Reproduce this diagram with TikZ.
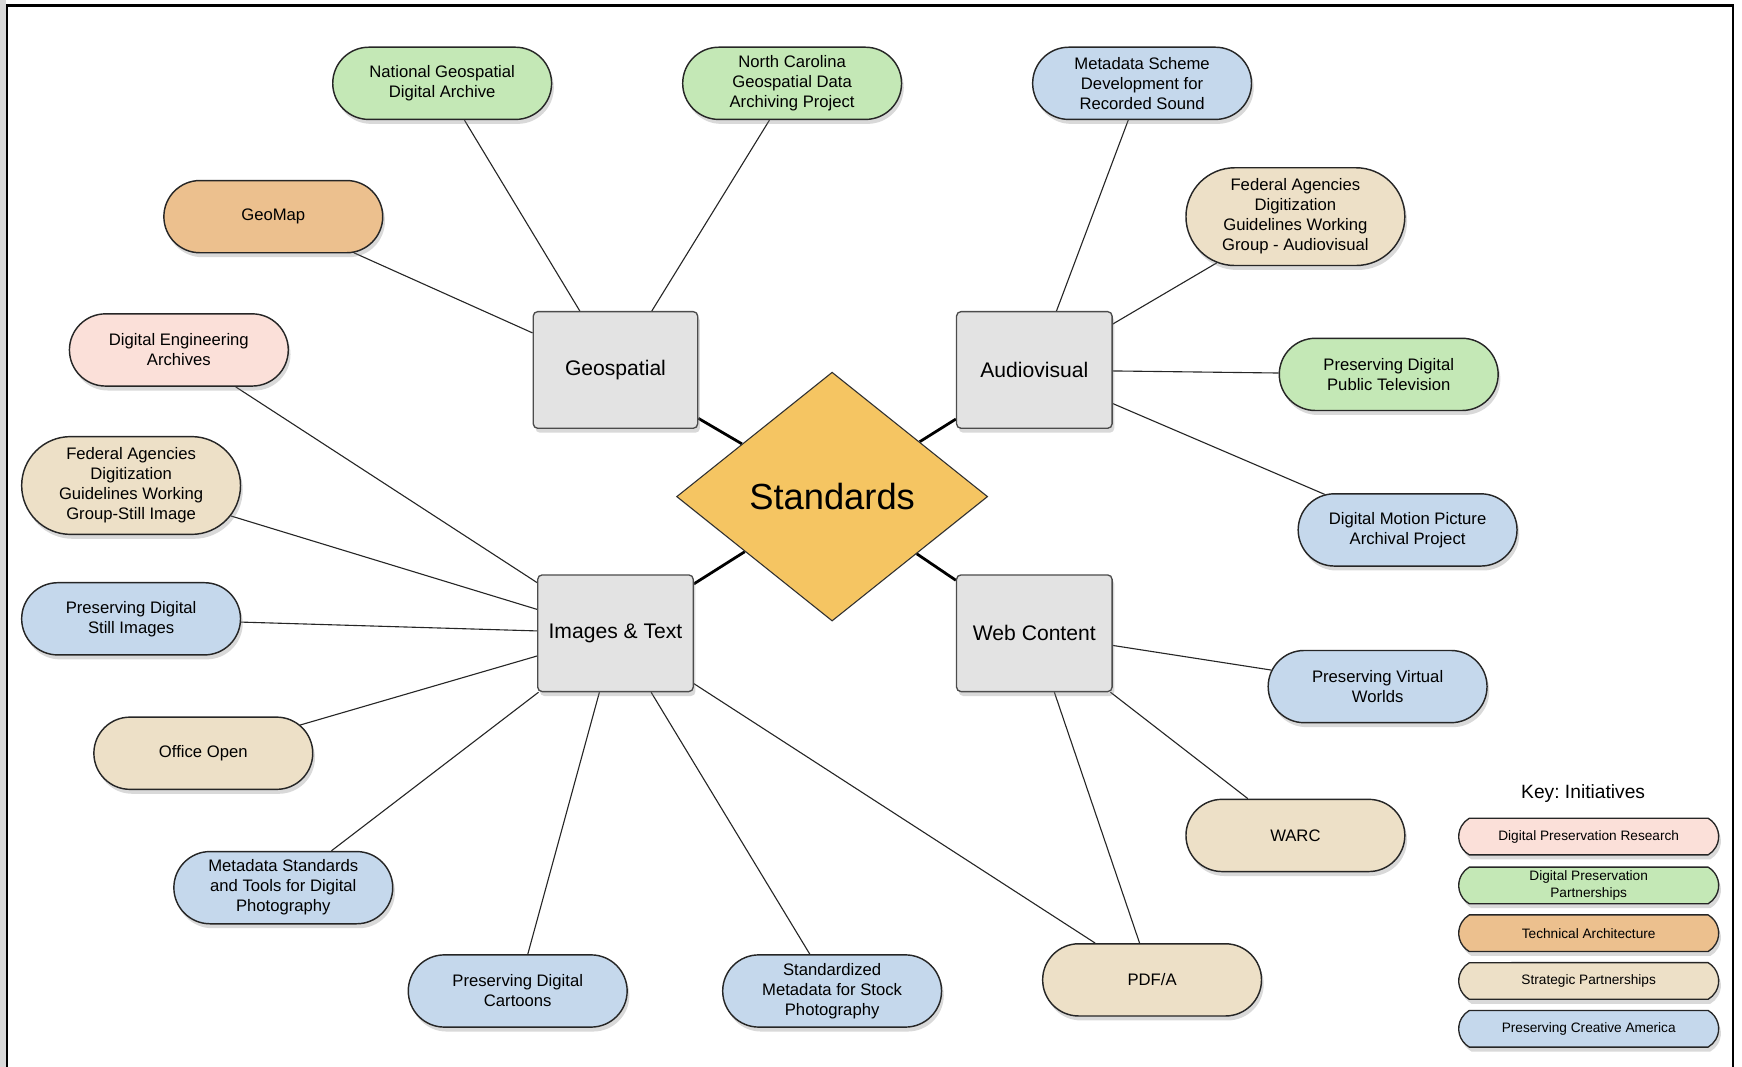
\documentclass[tikz,border=0pt]{standalone}
\usepackage{fontspec}
\setmainfont{Liberation Sans}
\usetikzlibrary{shapes.misc,shapes.geometric,shadows,backgrounds}

\definecolor{cgreen}{RGB}{196,232,182}
\definecolor{cblue}{RGB}{197,216,236}
\definecolor{ctan}{RGB}{237,224,199}
\definecolor{corange}{RGB}{236,192,142}
\definecolor{cpink}{RGB}{251,224,217}
\definecolor{cgray}{RGB}{227,227,227}
\definecolor{cgold}{RGB}{245,197,98}

\tikzset{
  shade/.style={drop shadow={shadow xshift=2pt,shadow yshift=-4pt,opacity=0.3}},
  pill/.style={rounded rectangle, draw=black!85, line width=1.3pt,
    minimum width=201pt, minimum height=65pt, inner sep=2pt, align=center,
    font=\fontsize{15}{18}\selectfont, shade},
  catbox/.style={rectangle, rounded corners=4pt, draw=black!70, line width=1.2pt,
    fill=cgray, minimum width=140pt, minimum height=105pt,
    font=\fontsize{19}{22}\selectfont, shade},
  keypill/.style={rounded rectangle, rounded rectangle arc length=120,
    draw=black!85, line width=1.2pt,
    minimum width=236pt, minimum height=33pt, inner sep=1pt, align=center,
    font=\fontsize{12.3}{14.5}\selectfont, shade},
  link/.style={draw=black!85, line width=1pt},
  hub/.style={draw=black, line width=2.5pt},
}

\begin{document}
\frenchspacing
\begin{tikzpicture}[x=1pt,y=-1pt]
\useasboundingbox (0,0) rectangle (1568,960);
\fill[black!15] (0,0) rectangle (5,960);
\draw[line width=2pt] (6,960) -- (6,5) -- (1560,5) -- (1560,960);

\node[pill, fill=cgreen] (ngda) at (398,75) {National Geospatial\\Digital Archive};
\node[pill, fill=cgreen] (ncg) at (713,75) {North Carolina\\Geospatial Data\\Archiving Project};
\node[pill, fill=cblue] (msd) at (1028,75) {Metadata Scheme\\Development for\\Recorded Sound};
\node[pill, fill=corange] (geomap) at (246,195) {GeoMap};
\node[pill, fill=ctan, minimum height=88pt] (fadav) at (1166,195) {Federal Agencies\\Digitization\\Guidelines Working\\Group - Audiovisual};
\node[pill, fill=cpink] (dea) at (161,315) {Digital Engineering\\Archives};
\node[catbox, minimum width=148pt] (geo) at (554,333) {Geospatial};
\node[catbox] (av) at (931,333) {Audiovisual};
\node[pill, fill=cgreen] (pdpt) at (1250,337) {Preserving Digital\\Public Television};
\node[diamond, fill=cgold, draw=black!80, line width=1pt, minimum width=280pt,
      minimum height=224pt, inner sep=0pt, font=\fontsize{32.7}{36}\selectfont] (std) at (749,447) {Standards};
\node[pill, fill=ctan, minimum height=88pt] (fadsi) at (118,437) {Federal Agencies\\Digitization\\Guidelines Working\\Group-Still Image};
\node[pill, fill=cblue] (dmp) at (1267,477) {Digital Motion Picture\\Archival Project};
\node[pill, fill=cblue] (pdsi) at (118,557) {Preserving Digital\\Still Images};
\node[catbox] (it) at (554,570) {Images \& Text};
\node[catbox] (web) at (931,570) {Web Content};
\node[pill, fill=cblue] (pvw) at (1240,618) {Preserving Virtual\\Worlds};
\node[pill, fill=ctan] (office) at (183,678) {Office Open};
\node[pill, fill=ctan] (warc) at (1166,752) {WARC};
\node[pill, fill=cblue] (mstdp) at (255,799) {Metadata Standards\\and Tools for Digital\\Photography};
\node[pill, fill=cblue] (pdc) at (466,892) {Preserving Digital\\Cartoons};
\node[pill, fill=cblue] (smsp) at (749,892) {Standardized\\Metadata for Stock\\Photography};
\node[pill, fill=ctan] (pdfa) at (1037,882) {PDF/A};

\node[font=\fontsize{17.3}{20}\selectfont] (keyt) at (1425,714) {Key: Initiatives};
\node[keypill, fill=cpink] (k1) at (1430,753) {Digital Preservation Research};
\node[keypill, fill=cgreen] (k2) at (1430,797) {Digital Preservation\\Partnerships};
\node[keypill, fill=corange] (k3) at (1430,840) {Technical Architecture};
\node[keypill, fill=ctan] (k4) at (1430,883) {Strategic Partnerships};
\node[keypill, fill=cblue] (k5) at (1430,926) {Preserving Creative America};

\begin{scope}[on background layer]
\foreach \a in {ngda,ncg,geomap} \draw[link] (\a) -- (geo);
\foreach \a in {msd,fadav,pdpt,dmp} \draw[link] (\a) -- (av);
\foreach \a in {dea,fadsi,pdsi,office,mstdp,pdc,smsp,pdfa} \draw[link] (\a) -- (it);
\foreach \a in {pvw,warc,pdfa} \draw[link] (\a) -- (web);
\foreach \a in {geo,av,it,web} \draw[hub] (\a) -- (std);
\end{scope}
\end{tikzpicture}
\end{document}
